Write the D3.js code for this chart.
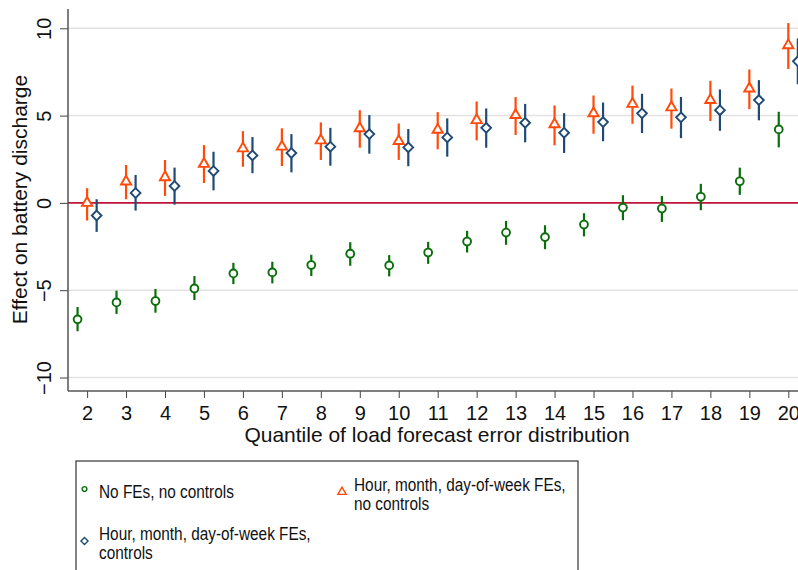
<!DOCTYPE html>
<html><head><meta charset="utf-8">
<script src="https://cdn.jsdelivr.net/npm/d3@7"></script>
<style>body{margin:0;background:#fff}svg{display:block}text{font-family:"Liberation Sans",Arial,Helvetica,sans-serif;fill:#111}</style>
</head><body>
<script>
const quantiles = [2,3,4,5,6,7,8,9,10,11,12,13,14,15,16,17,18,19,20];
const yTicks = [-10,-5,0,5,10];
// No FEs, no controls
const noFE = [-6.67,-5.70,-5.62,-4.90,-4.04,-3.98,-3.56,-2.91,-3.58,-2.84,-2.21,-1.70,-1.96,-1.24,-0.27,-0.32,0.35,1.24,4.21];
const noFELo = [-7.35,-6.36,-6.29,-5.56,-4.65,-4.61,-4.19,-3.60,-4.21,-3.49,-2.84,-2.40,-2.65,-1.92,-0.99,-1.09,-0.42,0.46,3.18];
const noFEHi = [-5.96,-5.03,-4.93,-4.19,-3.43,-3.37,-2.97,-2.25,-2.99,-2.23,-1.60,-1.03,-1.28,-0.59,0.44,0.40,1.09,2.02,5.22];
// Hour, month, day-of-week FEs, no controls
const feNoCtrl = [0.00,1.22,1.47,2.23,3.12,3.22,3.58,4.27,3.54,4.19,4.74,5.03,4.50,5.13,5.67,5.47,5.89,6.55,9.03];
const feNoCtrlLo = [-1.01,0.21,0.40,1.14,2.07,2.11,2.46,3.16,2.46,3.07,3.58,3.89,3.30,3.96,4.53,4.25,4.69,5.37,7.67];
const feNoCtrlHi = [0.84,2.17,2.46,3.31,4.11,4.27,4.61,5.31,4.55,5.20,5.81,6.06,5.58,6.15,6.72,6.55,6.99,7.64,10.30];
// Hour, month, day-of-week FEs, controls
const feCtrl = [-0.72,0.57,0.97,1.83,2.72,2.86,3.22,3.94,3.18,3.75,4.30,4.59,4.02,4.63,5.13,4.90,5.31,5.89,8.11];
const feCtrlLo = [-1.66,-0.44,-0.10,0.72,1.70,1.75,2.13,2.82,2.10,2.65,3.16,3.47,2.86,3.53,4.00,3.71,4.13,4.73,6.80];
const feCtrlHi = [0.21,1.60,2.02,2.93,3.77,3.94,4.30,5.03,4.23,4.84,5.41,5.67,5.14,5.75,6.25,6.07,6.50,7.03,9.41];
const colors = {green:"#0a6e0a", orange:"#ff4a0a", navy:"#1f4a75", zero:"#c0163c"};

const W=798,H=570;
const svg=d3.select("body").append("svg").attr("width",W).attr("height",H);
const L=68, T=9, B=391, R=798;
const x=d3.scaleLinear().domain([2,20]).range([87.1,788.3]);
const y=d3.scaleLinear().domain([-10,10]).range([377.5,28.3]);

// gridlines
svg.append("g").selectAll("line").data(yTicks).join("line")
  .attr("x1",L).attr("x2",R).attr("y1",d=>y(d)).attr("y2",d=>y(d))
  .attr("stroke","#e2e2e2").attr("stroke-width",1.5);

// zero line
svg.append("line").attr("x1",L).attr("x2",R).attr("y1",y(0)).attr("y2",y(0))
  .attr("stroke",colors.zero).attr("stroke-width",1.6);

// axes
const yAx=svg.append("g").attr("transform",`translate(${L},0)`)
  .call(d3.axisLeft(y).tickValues(yTicks).tickSize(8).tickFormat(d3.format("d")));
yAx.select(".domain").remove();
yAx.selectAll(".tick line").attr("stroke","#444");
yAx.selectAll(".tick text").attr("transform","translate(-17.5,0) rotate(-90)")
  .attr("x",0).attr("y",0).attr("dy",0).attr("text-anchor","middle").style("font-size","20px").attr("fill","#111");
svg.append("line").attr("x1",L).attr("x2",L).attr("y1",T).attr("y2",B).attr("stroke","#555").attr("stroke-width",1.5);

const xAx=svg.append("g").attr("transform",`translate(0,${B})`)
  .call(d3.axisBottom(x).tickValues(quantiles).tickSize(7).tickFormat(d3.format("d")));
xAx.select(".domain").remove();
xAx.selectAll(".tick line").attr("stroke","#444");
xAx.selectAll(".tick text").attr("y",15).attr("dy","0.71em").style("font-size","20px").attr("fill","#111");
svg.append("line").attr("x1",L).attr("x2",R).attr("y1",B).attr("y2",B).attr("stroke","#555").attr("stroke-width",1.5);

svg.append("text").attr("x",437).attr("y",442).attr("text-anchor","middle").style("font-size","21px").text("Quantile of load forecast error distribution");
svg.append("text").attr("transform","translate(27,199.5) rotate(-90)").attr("text-anchor","middle").style("font-size","21px").text("Effect on battery discharge");

function drawSeries(vals,lo,hi,off,color,shape){
  const g=svg.append("g");
  g.selectAll("line").data(quantiles).join("line")
    .attr("x1",(q)=>x(q+off)).attr("x2",(q)=>x(q+off))
    .attr("y1",(q,i)=>y(lo[i])).attr("y2",(q,i)=>y(hi[i]))
    .attr("stroke",color).attr("stroke-width",2.2);
  const sym=d3.symbol().type(shape.type).size(shape.size);
  g.selectAll("path").data(quantiles).join("path")
    .attr("d",sym())
    .attr("transform",(q,i)=>`translate(${x(q+off)},${y(vals[i])})`)
    .attr("fill","#fff").attr("stroke",color).attr("stroke-width",1.9);
}
drawSeries(noFE,noFELo,noFEHi,-0.245,colors.green,{type:d3.symbolCircle,size:48});
drawSeries(feNoCtrl,feNoCtrlLo,feNoCtrlHi,0,colors.orange,{type:d3.symbolTriangle,size:45});
drawSeries(feCtrl,feCtrlLo,feCtrlHi,0.245,colors.navy,{type:d3.symbolDiamond2,size:60});

// legend
const lg=svg.append("g");
lg.append("rect").attr("x",76).attr("y",461).attr("width",502).attr("height",130).attr("fill","#fff").attr("stroke","#333").attr("stroke-width",1.2);
const legendItems=[
  {lines:["No FEs, no controls"],mx:84.5,my:489,tx:99,ty:[498],color:colors.green,type:d3.symbolCircle,size:18},
  {lines:["Hour, month, day-of-week FEs,","no controls"],mx:342,my:492,tx:354,ty:[490.5,510],color:colors.orange,type:d3.symbolTriangle,size:30},
  {lines:["Hour, month, day-of-week FEs,","controls"],mx:84.5,my:541,tx:99,ty:[540,559],color:colors.navy,type:d3.symbolDiamond2,size:32}
];
legendItems.forEach(it=>{
  lg.append("path").attr("d",d3.symbol().type(it.type).size(it.size)()).attr("transform",`translate(${it.mx},${it.my})`)
    .attr("fill","#fff").attr("stroke",it.color).attr("stroke-width",1.4);
  it.lines.forEach((t,j)=>lg.append("text").attr("transform",`translate(${it.tx},${it.ty[j]}) scale(0.83,1)`)
    .style("font-size","18.5px").text(t));
});
</script>
</body></html>
